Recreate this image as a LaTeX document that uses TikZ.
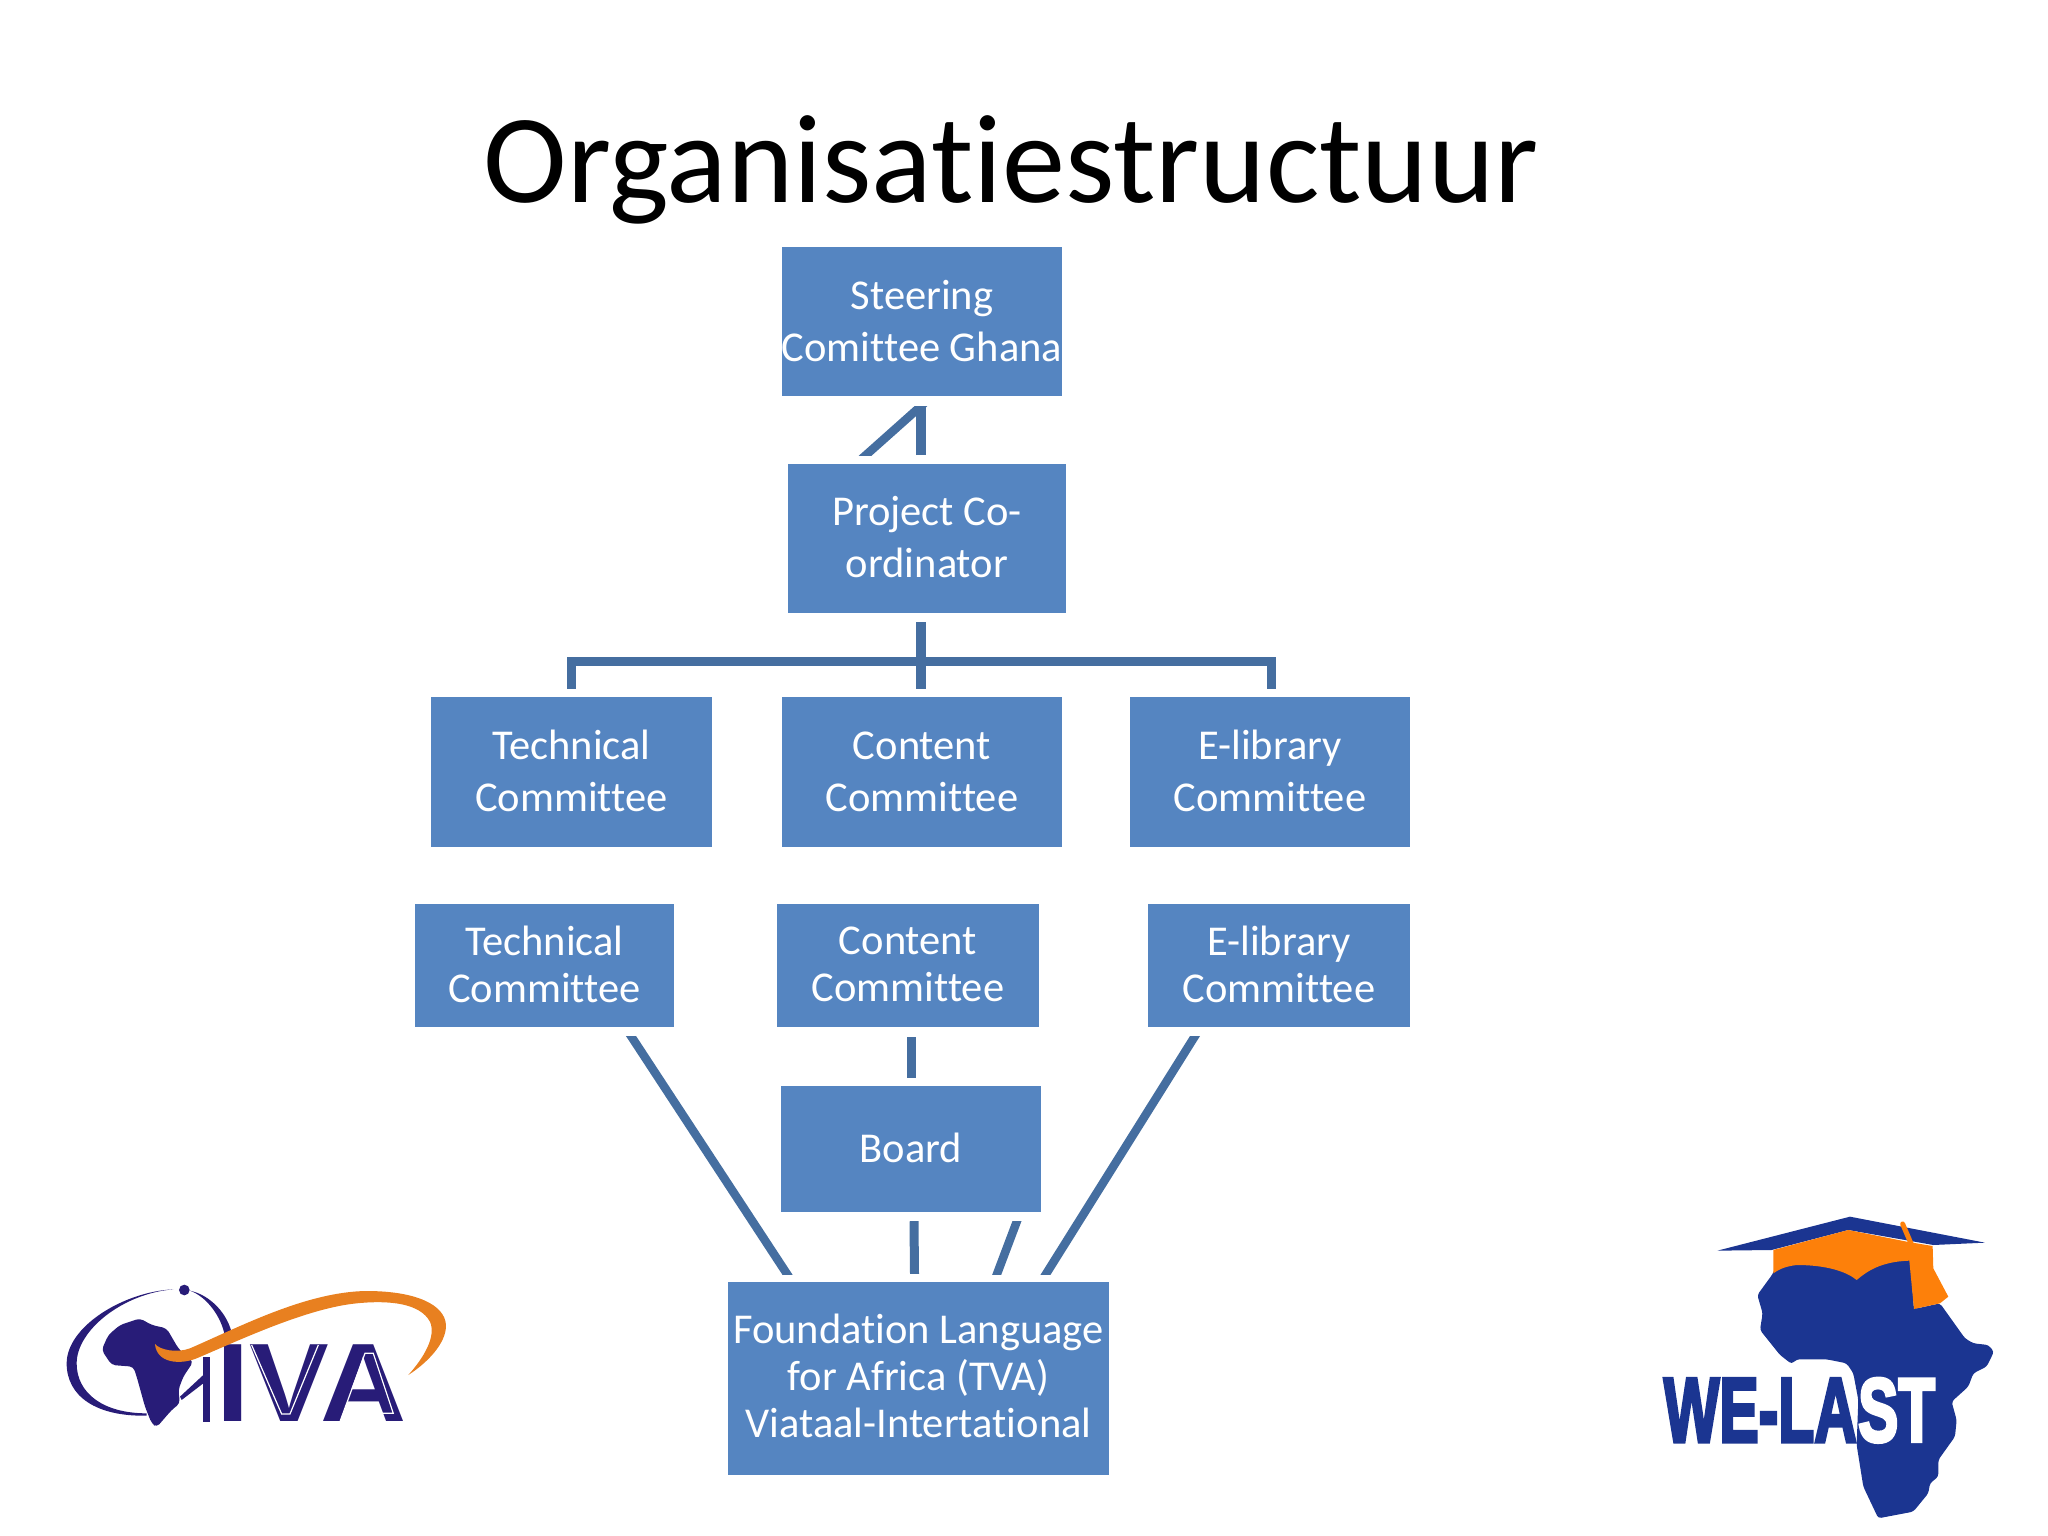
\documentclass[tikz,border=0pt]{standalone}
\usepackage{fontspec}
\setmainfont{Carlito}[Ligatures=CommonOff]
\newfontfamily\heavyfont{Liberation Sans}[BoldFeatures={FakeBold=4}]
\newfontfamily\wideboldfont{Liberation Sans}
\usetikzlibrary{calc}
\definecolor{boxblue}{RGB}{85,133,193}
\definecolor{linkblue}{RGB}{69,110,160}
\definecolor{tivanavy}{RGB}{40,28,120}
\definecolor{tivaorange}{RGB}{232,128,32}
\definecolor{welblue}{RGB}{27,53,145}
\definecolor{welorange}{RGB}{253,128,10}
\tikzset{
  orgbox/.style={fill=boxblue,text=white,inner sep=0pt,align=center,font=\fontsize{42.5}{52}\selectfont},
  lowbox/.style={orgbox,font=\fontsize{42.5}{47}\selectfont},
  link/.style={draw=linkblue,line width=10.5pt},
  slant/.style={draw=linkblue,line width=8.5pt,shorten <=-12pt,shorten >=-12pt},
}
\begin{document}
\begin{tikzpicture}[x=1pt,y=-1pt]
\useasboundingbox (0,0) rectangle (2048,1536);
\node[anchor=base,font=\fontsize{126.3}{126}\selectfont] (title) at (1011,202) {Organisatiestructuur};
\node[orgbox,minimum width=280pt,minimum height=149pt] (steering) at (922,321.5) {Steering\\Comittee Ghana};
\node[orgbox,minimum width=278pt,minimum height=149pt,text depth=4pt] (project) at (927,538.5) {Project Co-\\ordinator};
\node[orgbox,minimum width=281pt,minimum height=150pt,text depth=2pt] (tech1) at (571.5,772) {Technical\\Committee};
\node[orgbox,minimum width=280pt,minimum height=150pt] (content1) at (922,772) {Content\\Committee};
\node[orgbox,minimum width=280pt,minimum height=150pt,text depth=2pt] (elib1) at (1270,772) {E-library\\Committee};
\node[lowbox,minimum width=259pt,minimum height=123pt,text depth=2pt] (tech2) at (544.5,965.5) {Technical\\Committee};
\node[lowbox,minimum width=262pt,minimum height=123pt,text depth=2pt] (content2) at (908,965.5) {Content\\Committee};
\node[lowbox,minimum width=262pt,minimum height=123pt,text depth=2pt] (elib2) at (1279,965.5) {E-library\\Committee};
\node[lowbox,minimum width=260pt,minimum height=126pt,text depth=2.5pt] (board) at (911,1149) {Board};
\node[lowbox,minimum width=381pt,minimum height=193pt,text depth=5pt] (foundation) at (918.5,1378.5) {Foundation Language\\for Africa (TVA)\\Viataal-Intertational};
% connectors
\begin{scope}
\clip (0,406) rectangle (2048,455);
\draw[link] (921,455) -- (921,406);
\draw[slant] (866,455) -- (921,406);
\end{scope}
\draw[link] ([xshift=-6pt,yshift=-9pt]project.south) -- ([xshift=-1pt,yshift=8pt]content1.north);
\draw[link,line width=9pt] ([yshift=8pt]tech1.north) |- (921,661) -| ([xshift=1pt,yshift=8pt]elib1.north);
\draw[link,line width=9pt] ([xshift=3pt,yshift=-10pt]content2.south) -- ([yshift=8pt]board.north);
\draw[link,line width=9pt] ([xshift=3pt,yshift=-9pt]board.south) -- ([xshift=-4pt,yshift=8pt]foundation.north);
\begin{scope}
\clip (0,1036) rectangle (2048,1274);
\draw[slant] (631,1036) -- (787,1274);
\draw[slant] (1195,1036) -- (1046,1274);
\end{scope}
\begin{scope}
\clip (0,1221) rectangle (2048,1274);
\draw[slant] (1017,1221) -- (997,1274);
\end{scope}
% TIVA logo
\begin{scope}[shift={(40,1250)},x=0.3333pt,y=-0.3333pt]
\fill[tivanavy] (400,118) .. controls (250,125) and (80,230) .. (80,340) .. controls (80,440) and (170,500) .. (320,497) -- (320,490) .. controls (190,490) and (110,430) .. (110,340) .. controls (110,240) and (250,130) .. (400,118) -- cycle;
\fill[tivanavy] (450,122) .. controls (510,135) and (565,190) .. (578,260) -- (555,260) .. controls (545,200) and (500,140) .. (450,122) -- cycle;
\fill[tivanavy] (433,120) circle[radius=16];
\fill[tivanavy] (490,320) rectangle (510,515);
\fill[tivanavy] (420,440) -- (490,375) -- (490,400) -- (425,450) -- cycle;
\fill[tivanavy,rounded corners=4pt] (185,300) -- (205,255) -- (240,225) -- (300,205) -- (335,225) -- (380,235) -- (415,295) -- (430,310) -- (460,335) -- (430,380) -- (415,420) -- (420,460) -- (395,480) -- (350,532) -- (335,520) -- (315,470) -- (290,380) -- (280,350) -- (215,345) -- cycle;
\node[inner sep=0pt,text=tivanavy] (ivatext) at (815,400) {\resizebox{190pt}{76.7pt}{\wideboldfont\bfseries IVA}};
\draw[white,line width=1.2pt] (635,285) -- (725,492) -- (750,492) -- (835,285);
\draw[white,line width=1.2pt] (900,515) -- (975,310) -- (1000,310) -- (1060,490) -- (945,490);
\fill[tivaorange] (345,282) .. controls (360,300) and (410,310) .. (450,295) .. controls (600,230) and (800,125) .. (980,123) .. controls (1130,123) and (1215,165) .. (1218,225) .. controls (1220,280) and (1160,340) .. (1105,375) .. controls (1150,325) and (1190,260) .. (1170,215) .. controls (1140,160) and (1050,150) .. (950,160) .. controls (800,175) and (600,270) .. (470,325) .. controls (420,345) and (350,340) .. (345,282) -- cycle;
\end{scope}
% WE-LAST logo
\begin{scope}[shift={(1640,1200)},x=0.3333pt,y=-0.3333pt]
\fill[welblue,rounded corners=3pt] (352,285) -- (398,222) -- (420,170) -- (810,170) -- (822,327) -- (900,310) -- (975,415) -- (1000,430) -- (1045,435) -- (1062,455) -- (1040,500) -- (1000,520) -- (985,560) -- (935,605) -- (950,660) -- (945,710) -- (895,780) -- (895,830) -- (870,850) -- (865,880) -- (820,935) -- (715,955) -- (670,860) -- (650,735) -- (655,600) -- (640,520) -- (620,490) -- (560,478) -- (470,478) -- (455,492) -- (420,465) -- (360,390) -- (368,340) -- cycle;
\fill[welblue] (232,152) -- (630,50) -- (1035,128) -- (880,135) -- (625,90) -- (395,150) -- cycle;
\fill[welorange] (400,150) -- (625,90) -- (800,125) -- (878,138) -- (880,205) -- (925,290) -- (900,310) -- (822,327) -- (808,182) .. controls (720,185) and (680,215) .. (650,240) .. controls (620,215) and (560,195) .. (470,195) .. controls (430,200) and (415,210) .. (400,220) -- cycle;
\draw[welorange,line width=5pt,line cap=round] (788,72) -- (815,135);
\node[inner sep=0pt,text=welblue] (welast) at (361,631) {\resizebox{193pt}{63pt}{\heavyfont\bfseries WE-LA}};
\node[inner sep=0pt,text=white] (welastb) at (770,631) {\resizebox{77pt}{63pt}{\heavyfont\bfseries ST}};
\end{scope}
\end{tikzpicture}
\end{document}
